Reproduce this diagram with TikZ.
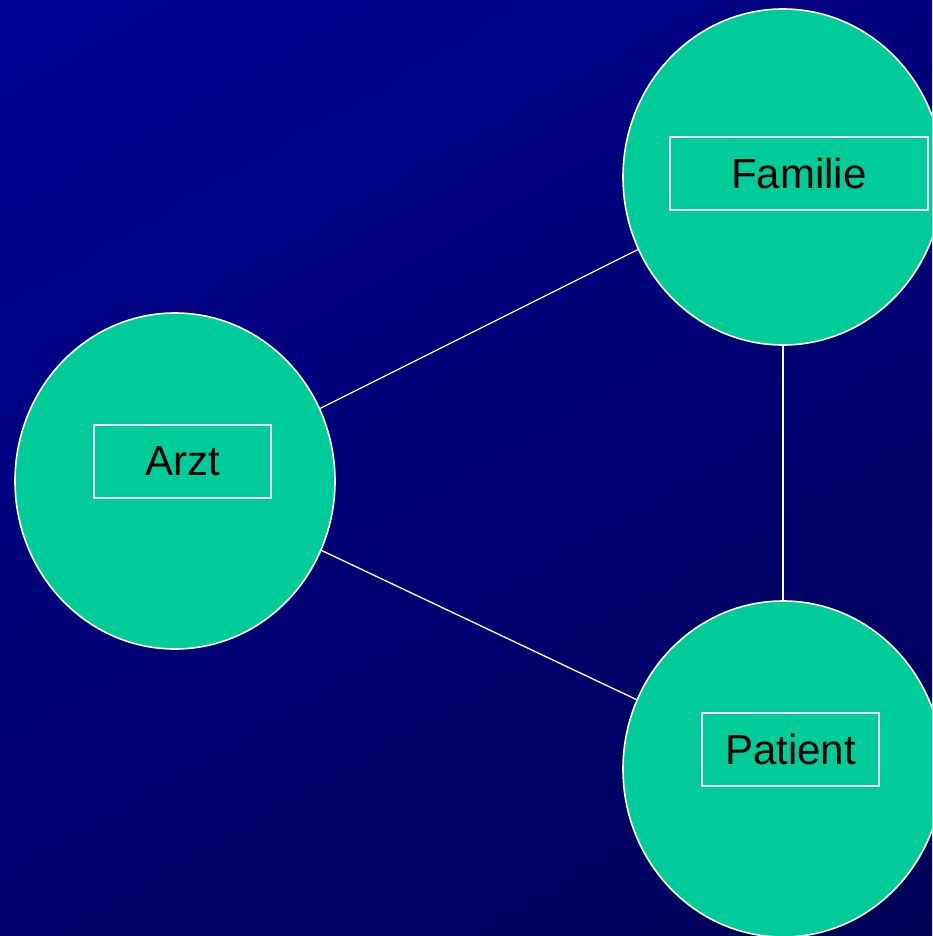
\documentclass[tikz,border=0pt]{standalone}
\usepackage{fontspec}
\setmainfont{Liberation Sans}
\usetikzlibrary{shapes.geometric}
\definecolor{bgtop}{RGB}{0,0,150}
\definecolor{bgbot}{RGB}{0,0,85}
\definecolor{blob}{RGB}{0,204,153}
\tikzset{
  blobnode/.style={ellipse, draw=white, line width=1.6pt, fill=blob, minimum width=320pt, minimum height=336pt, inner sep=0pt},
  labelbox/.style={rectangle, draw=white, line width=1.6pt, inner sep=0pt, font=\fontsize{42}{50}\selectfont, text=black},
  link/.style={draw=white, line width=1.3pt}
}
\begin{document}
\begin{tikzpicture}[x=1pt,y=-1pt]
\useasboundingbox (0,0) rectangle (932,936);
\clip (0,0) rectangle (932,936);
\shade[top color=bgtop, bottom color=bgbot, shading angle=30] (-200,-200) rectangle (1132,1136);
\node[blobnode] (fam) at (783,177) {};
\node[blobnode] (arzt) at (175,481) {};
\node[blobnode] (pat) at (783,769) {};
\path[link] (arzt) -- (fam);
\path[link] (arzt) -- (pat);
\path[link] (fam) -- (pat);
\node[labelbox, minimum width=258pt, minimum height=73pt] (famlab) at (799,173.5) {Familie};
\node[labelbox, minimum width=177pt, minimum height=73pt] (arztlab) at (182.5,461.5) {Arzt};
\node[labelbox, minimum width=177pt, minimum height=73pt] (patlab) at (790.5,749.5) {Patient};
\end{tikzpicture}
\end{document}
